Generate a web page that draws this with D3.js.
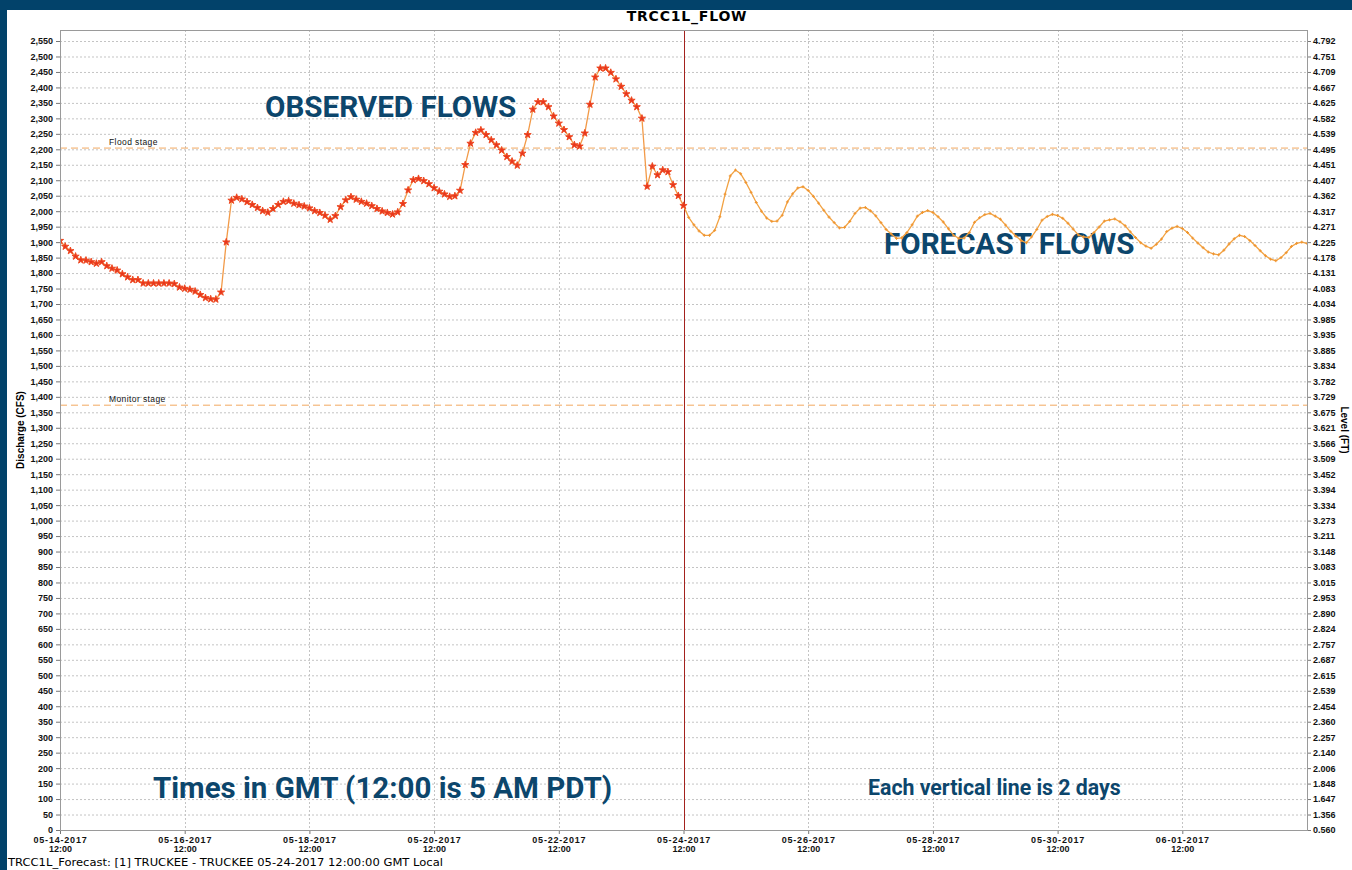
<!DOCTYPE html>
<html>
<head>
<meta charset="utf-8">
<script src="https://cdn.jsdelivr.net/npm/d3@7"></script>
<style>
body{margin:0;background:#fff;}
</style>
</head>
<body>
<div id="chart_flow"></div>
<script>
// hourly data, one value every 2 hours
var stepHours=2;
var obsStart="2017-05-14T12:00:00Z";
var fcstStart="2017-05-24T12:00:00Z";

var observedFlow=[1905,1886,1872,1854,1842,1841,1836,1831,1836,1823,
1815,1809,1797,1787,1778,1778,1767,1767,1767,1767,
1767,1767,1765,1754,1750,1747,1741,1730,1720,1716,
1715,1738,1900,2035,2044,2039,2030,2021,2011,2001,
1996,2008,2021,2031,2033,2025,2020,2016,2010,2001,
1995,1986,1973,1985,2014,2036,2046,2038,2031,2025,
2017,2008,2000,1995,1990,1997,2024,2068,2101,2105,
2098,2088,2075,2064,2055,2047,2049,2067,2150,2219,
2254,2262,2247,2230,2214,2197,2176,2161,2148,2187,
2247,2329,2353,2353,2337,2307,2284,2263,2240,2214,
2210,2252,2345,2433,2462,2462,2448,2427,2403,2379,
2358,2337,2300,2080,2145,2117,2133,2127,2085,2050,
2018];

var forecastFlow=[2018,1980,1956,1936,1922,1922,1938,1982,2055,2114,
2133,2121,2093,2061,2028,2000,1978,1967,1968,1987,
2030,2056,2075,2079,2067,2048,2026,2003,1981,1963,
1946,1948,1967,1993,2010,2012,2001,1985,1963,1941,
1926,1912,1914,1931,1956,1984,1996,2002,1996,1982,
1965,1943,1922,1912,1913,1931,1964,1979,1989,1993,
1984,1974,1955,1935,1919,1905,1898,1917,1941,1971,
1983,1990,1986,1977,1961,1942,1923,1917,1915,1931,
1949,1968,1972,1975,1966,1953,1933,1915,1898,1887,
1880,1893,1910,1934,1945,1951,1944,1931,1913,1897,
1882,1868,1862,1859,1874,1894,1911,1922,1918,1905,
1889,1872,1856,1845,1840,1850,1866,1886,1896,1900,
1896];

var flowTicks=d3.range(0,2551,50);
var levelLabels=["0.560","1.356","1.647","1.848","2.006","2.140","2.257","2.360","2.454","2.539",
"2.615","2.687","2.757","2.824","2.890","2.953","3.015","3.083","3.148","3.211",
"3.273","3.334","3.394","3.452","3.509","3.566","3.621","3.675","3.729","3.782",
"3.834","3.885","3.935","3.985","4.034","4.083","4.131","4.178","4.225","4.271",
"4.317","4.362","4.407","4.451","4.495","4.539","4.582","4.625","4.667","4.709",
"4.751","4.792"];
var dateTicks=["2017-05-14T12:00:00Z","2017-05-16T12:00:00Z","2017-05-18T12:00:00Z","2017-05-20T12:00:00Z",
"2017-05-22T12:00:00Z","2017-05-24T12:00:00Z","2017-05-26T12:00:00Z","2017-05-28T12:00:00Z",
"2017-05-30T12:00:00Z","2017-06-01T12:00:00Z"];
var stageNames=["Flood stage","Monitor stage"];
var stageFlows=[2204,1373];

var width=1352,height=870;
var plotL=60,plotR=1307,plotT=30,plotB=830;
var frameBlue="#02426a",noteBlue="#0c466c";
var tickFont="'Liberation Sans', Arial, sans-serif";

function toSeries(values,start){
	var t0=new Date(start).getTime();
	return values.map(function(v,i){return {t:new Date(t0+i*stepHours*3600000),v:v};});
}
var observed=toSeries(observedFlow,obsStart);
var forecast=toSeries(forecastFlow,fcstStart);

var svg=d3.select("#chart_flow")
	.append("svg")
	.attr("width",width)
	.attr("height",height)
	.style("display","block")
	.style("background","#fff");

var x=d3.scaleUtc()
	.domain([new Date("2017-05-14T12:00:00Z"),new Date("2017-06-03T12:00:00Z")])
	.range([plotL,plotR]);
var y=d3.scaleLinear()
	.domain([0,2585.6])
	.range([plotB,plotT]);

// grid
svg.append("g").selectAll("line")
	.data(flowTicks.filter(function(d){return d>0;}))
	.enter().append("line")
	.attr("x1",plotL).attr("x2",plotR)
	.attr("y1",function(d){return y(d)+0.5;})
	.attr("y2",function(d){return y(d)+0.5;})
	.style("stroke","#c4c4c4")
	.style("stroke-dasharray","2,2");

svg.append("g").selectAll("line")
	.data(dateTicks.slice(1))
	.enter().append("line")
	.attr("x1",function(d){return Math.round(x(new Date(d)))+0.5;})
	.attr("x2",function(d){return Math.round(x(new Date(d)))+0.5;})
	.attr("y1",plotT).attr("y2",plotB)
	.style("stroke","#c4c4c4")
	.style("stroke-dasharray","2,2");

// stage lines
var stages=svg.append("g").selectAll("g")
	.data(stageFlows)
	.enter().append("g");
stages.append("line")
	.attr("x1",plotL).attr("x2",plotR)
	.attr("y1",function(d){return y(d);})
	.attr("y2",function(d){return y(d);})
	.style("stroke","#f2a860")
	.style("stroke-width","1px")
	.style("stroke-dasharray","7,4");
stages.append("text")
	.attr("x",109)
	.attr("y",function(d){return y(d)-3;})
	.attr("font-family",tickFont)
	.attr("font-size","8.5px")
	.attr("letter-spacing","0.4px")
	.attr("fill","#111")
	.text(function(d,i){return stageNames[i];});

// annotations
var notes=svg.append("g")
	.attr("font-family","Roboto, 'Open Sans', sans-serif")
	.attr("font-weight","bold")
	.attr("fill",noteBlue);
notes.append("text").attr("x",265).attr("y",117).attr("font-size","29.6px").text("OBSERVED FLOWS");
notes.append("text").attr("x",884).attr("y",254).attr("font-size","29.6px").text("FORECAST FLOWS");
notes.append("text").attr("x",153).attr("y",798).attr("font-size","29.5px").text("Times in GMT (12:00 is 5 AM PDT)");
notes.append("text").attr("x",868).attr("y",795).attr("font-size","21.3px").text("Each vertical line is 2 days");

// current time marker
svg.append("line")
	.attr("x1",Math.round(x(new Date(fcstStart)))+0.5)
	.attr("x2",Math.round(x(new Date(fcstStart)))+0.5)
	.attr("y1",plotT).attr("y2",plotB)
	.style("stroke","#a3221e")
	.style("stroke-width","1px");

// series
svg.append("clipPath").attr("id","plotClip")
	.append("rect").attr("x",plotL).attr("y",plotT).attr("width",plotR-plotL).attr("height",plotB-plotT);

var line=d3.line()
	.x(function(d){return x(d.t);})
	.y(function(d){return y(d.v);});

var series=svg.append("g").attr("clip-path","url(#plotClip)");

series.append("path")
	.datum(forecast)
	.attr("d",line)
	.style("fill","none")
	.style("stroke","#f2a242")
	.style("stroke-width","1.3px");
series.append("g").selectAll("path")
	.data(forecast)
	.enter().append("path")
	.attr("transform",function(d){return "translate("+x(d.t)+","+y(d.v)+")";})
	.attr("d","M-1.5,0H1.5M0,-1.5V1.5")
	.style("stroke","#ef9530")
	.style("stroke-width","1px");

series.append("path")
	.datum(observed)
	.attr("d",line)
	.style("fill","none")
	.style("stroke","#f29a48")
	.style("stroke-width","1.3px");
series.append("g").selectAll("path")
	.data(observed)
	.enter().append("path")
	.attr("transform",function(d){return "translate("+x(d.t)+","+y(d.v)+")";})
	.attr("d",d3.symbol().type(d3.symbolStar).size(16))
	.style("fill","#e8351d")
	.style("stroke","#ee4a22")
	.style("stroke-width","1px");

// axes
function styleAxis(g){
	g.attr("font-family",tickFont).attr("font-size","9px").attr("font-weight","bold");
	g.select(".domain").remove();
	g.selectAll(".tick line").style("stroke","#777");
	g.selectAll(".tick text").style("fill","#111");
}

svg.append("g")
	.attr("transform","translate("+plotL+",0)")
	.call(d3.axisLeft(y).tickValues(flowTicks).tickSize(4).tickPadding(3).tickFormat(d3.format(",")))
	.call(styleAxis);

svg.append("g")
	.attr("transform","translate("+plotR+",0)")
	.call(d3.axisRight(y).tickValues(flowTicks).tickSize(4).tickPadding(2)
		.tickFormat(function(d,i){return levelLabels[i];}))
	.call(styleAxis);

var fmtDate=d3.utcFormat("%m-%d-%Y");
var xAxis=svg.append("g")
	.attr("transform","translate(0,"+plotB+")")
	.call(d3.axisBottom(x).tickValues(dateTicks.map(function(d){return new Date(d);})).tickSize(4).tickPadding(3))
	.call(styleAxis);
xAxis.selectAll(".tick text").each(function(d){
	var t=d3.select(this);
	t.text(null);
	t.append("tspan").attr("x",0).attr("dy","0.71em").attr("letter-spacing","0.8px").text(fmtDate(d));
	t.append("tspan").attr("x",0).attr("dy","1.0em").text(d3.utcFormat("%H:%M")(d));
});

// plot border
svg.append("rect")
	.attr("x",plotL+0.5).attr("y",plotT+0.5)
	.attr("width",plotR-plotL).attr("height",plotB-plotT)
	.style("fill","none")
	.style("stroke","#9a9a9a");

// axis titles
svg.append("text")
	.attr("transform","translate(24,430) rotate(-90)")
	.attr("text-anchor","middle")
	.attr("font-family",tickFont)
	.attr("font-size","10px")
	.attr("font-weight","bold")
	.text("Discharge (CFS)");
svg.append("text")
	.attr("transform","translate(1341,430) rotate(90)")
	.attr("text-anchor","middle")
	.attr("font-family",tickFont)
	.attr("font-size","10px")
	.attr("font-weight","bold")
	.text("Level (FT)");

// chart title
svg.append("text")
	.attr("x",687).attr("y",21)
	.attr("text-anchor","middle")
	.attr("font-family","'DejaVu Sans', sans-serif")
	.attr("font-size","14px")
	.attr("font-weight","bold")
	.attr("letter-spacing","0.8px")
	.text("TRCC1L_FLOW");

// footer
svg.append("text")
	.attr("x",8).attr("y",866)
	.attr("font-family","'DejaVu Sans', sans-serif")
	.attr("font-size","11px")
	.attr("textLength",435)
	.attr("lengthAdjust","spacingAndGlyphs")
	.text("TRCC1L_Forecast: [1] TRUCKEE - TRUCKEE 05-24-2017 12:00:00 GMT Local");

// page frame
svg.append("rect").attr("x",0).attr("y",0).attr("width",width).attr("height",10).style("fill",frameBlue);
svg.append("rect").attr("x",0).attr("y",0).attr("width",7).attr("height",height).style("fill",frameBlue);
</script>
</body>
</html>
